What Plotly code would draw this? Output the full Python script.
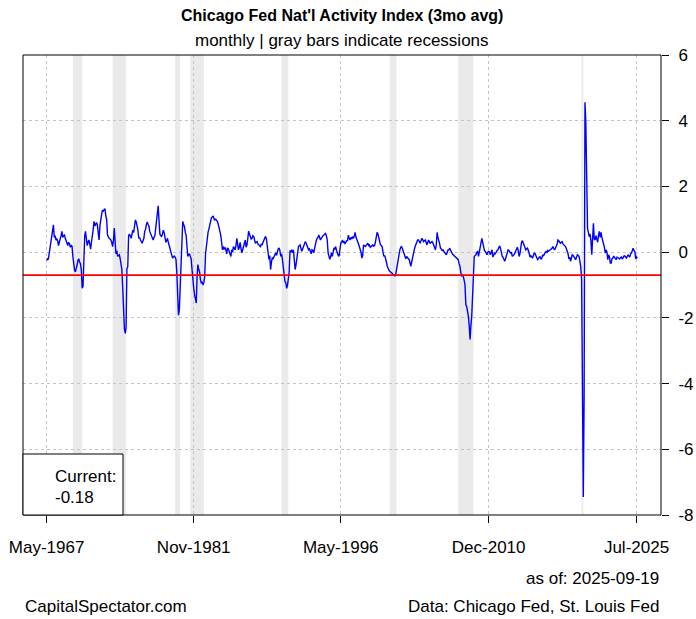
import pandas as pd
import plotly.graph_objects as go

# ---------------- data (CFNAI 3-month average, monthly from May-1967) ----------------
start_month = "1967-05-01"

cfnai_1960s = [
    -0.25, -0.2, -0.22, -0.05, 0.2, 0.35, 0.5, 0.6,                      # 1967 May-Dec
    0.83, 0.45, 0.5, 0.37, 0.4, 0.35, 0.2, 0.3, 0.37, 0.5, 0.63, 0.45,   # 1968
    0.5, 0.52, 0.42, 0.37, 0.28, 0.2, 0.3, 0.25, 0.15, 0.2, 0.18, -0.13, # 1969
]
cfnai_1970s = [
    -0.5, -0.55, -0.6, -0.53, -0.4, -0.25, -0.2, -0.3, -0.35, -0.53, -1.1, -1.05,
    0.07, 0.5, 0.63, 0.35, 0.2, 0.3, 0.37, 0.25, 0.09, 0.3, 0.45, 0.67,
    0.94, 0.8, 0.85, 0.9, 0.83, 0.65, 0.37, 0.8, 1.07, 1.15, 1.28, 1.25,
    1.3, 1.32, 1.1, 1.0, 0.52, 0.45, 0.42, 0.4, 0.37, 0.3, 0.17, 0.35,
    0.73, 0.3, -0.05, 0.05, -0.13, -0.1, -0.08, -0.2, -0.33, -0.53, -1.1, -1.8,
    -2.35, -2.47, -2.3, -0.5, -0.45, 0.5, 0.55, 0.5, 0.42, 0.55, 0.67, 0.6,
    0.85, 0.98, 0.92, 0.8, 0.67, 0.42, 0.45, 0.37, 0.3, 0.27, 0.35, 0.42,
    0.63, 0.7, 0.83, 0.92, 0.85, 0.8, 0.63, 0.55, 0.48, 0.42, 0.37, 0.45,
    0.5, 0.73, 0.9, 1.18, 1.41, 0.95, 0.55, 0.5, 0.48, 0.55, 0.67, 0.6,
    0.45, 0.3, 0.35, 0.42, 0.3, 0.2, 0.05, -0.05, -0.1, -0.18, -0.15, -0.12,
]
cfnai_1980s = [
    -0.15, -0.22, -0.6, -1.55, -1.92, -1.75, -0.94, -0.2, 0.48, 0.93, 0.85, 0.78,
    0.6, 0.52, 0.2, -0.13, -0.08, -0.05, -0.13, -0.2, -0.53, -0.93, -1.1, -1.3,
    -1.45, -1.55, -0.74, -0.38, -0.53, -0.6, -0.84, -0.95, -0.9, -1.0, -0.93, -0.74,
    -0.04, 0.2, 0.48, 0.6, 0.7, 0.85, 1.0, 1.05, 1.07, 1.1, 1.02, 0.98,
    1.0, 0.98, 0.94, 0.85, 0.75, 0.6, 0.52, 0.3, 0.07, 0.17, 0.1, 0.13,
    0.07, -0.05, 0.13, 0.1, 0.01, -0.08, -0.13, 0.07, 0.0, 0.17, 0.12, 0.07,
    0.2, 0.42, 0.25, 0.07, 0.15, 0.3, 0.1, -0.02, 0.08, 0.17, 0.25, 0.37,
    0.15, 0.22, 0.4, 0.64, 0.55, 0.48, 0.4, 0.42, 0.5, 0.48, 0.35, 0.27,
    0.3, 0.32, 0.25, 0.22, 0.2, 0.17, 0.25, 0.22, 0.3, 0.37, 0.42, 0.48,
    0.4, 0.2, 0.07, -0.22, -0.1, -0.53, -0.3, -0.18, -0.2, -0.13, -0.05, -0.02,
]
cfnai_1990s = [
    -0.1, 0.03, 0.1, 0.13, 0.05, -0.13, -0.05, -0.22, -0.5, -0.8, -0.9, -0.93,
    -1.1, -1.0, -0.7, -0.6, 0.05, 0.0, 0.07, -0.02, 0.07, -0.2, -0.53, -0.4,
    -0.18, 0.0, 0.17, 0.2, 0.22, 0.1, 0.03, 0.1, 0.17, 0.25, 0.32, 0.28,
    0.22, 0.15, 0.07, 0.1, 0.03, -0.05, 0.07, 0.05, -0.02, 0.15, 0.32, 0.35,
    0.42, 0.45, 0.52, 0.45, 0.37, 0.42, 0.48, 0.5, 0.52, 0.55, 0.57, 0.5,
    0.37, -0.02, -0.1, -0.22, -0.15, -0.02, -0.13, 0.0, 0.13, 0.1, 0.17, 0.05,
    -0.07, -0.1, -0.13, 0.1, 0.27, 0.3, 0.37, 0.3, 0.32, 0.25, 0.3, 0.35,
    0.35, 0.52, 0.42, 0.37, 0.45, 0.4, 0.47, 0.42, 0.5, 0.6, 0.45, 0.4,
    0.32, 0.25, 0.17, 0.1, 0.0, -0.18, -0.1, 0.22, 0.2, 0.17, 0.2, 0.25,
    0.27, 0.2, 0.22, 0.15, 0.17, 0.2, 0.22, 0.18, 0.2, 0.3, 0.42, 0.6,
]
cfnai_2000s = [
    0.55, 0.4, 0.3, 0.22, 0.2, 0.17, 0.0, -0.13, -0.1, -0.18, -0.3, -0.43,
    -0.53, -0.55, -0.58, -0.6, -0.63, -0.65, -0.7, -0.69, -0.72, -0.68, -0.53, -0.35,
    -0.13, -0.05, 0.07, 0.15, 0.17, 0.1, 0.02, -0.05, -0.18, -0.2, -0.13, -0.15,
    -0.2, -0.23, -0.35, -0.43, -0.3, -0.13, -0.05, 0.07, 0.17, 0.22, 0.32, 0.37,
    0.37, 0.3, 0.27, 0.35, 0.42, 0.38, 0.32, 0.35, 0.37, 0.3, 0.22, 0.3,
    0.37, 0.3, 0.27, 0.3, 0.32, 0.28, 0.22, 0.15, 0.07, 0.22, 0.6, 0.45,
    0.37, 0.25, 0.12, 0.1, 0.05, 0.07, 0.02, -0.03, -0.05, -0.08, 0.0, 0.07,
    0.07, 0.12, 0.05, 0.02, -0.05, -0.08, -0.1, -0.13, -0.15, -0.18, -0.2, -0.23,
    -0.35, -0.43, -0.6, -0.72, -0.7, -0.74, -0.85, -0.99, -1.6, -1.65, -1.8, -1.95,
    -2.25, -2.66, -2.25, -1.95, -1.35, -0.43, -0.13, -0.1, -0.08, 0.0, 0.02, -0.13,
]
cfnai_2010s = [
    0.0, 0.07, 0.27, 0.42, 0.3, 0.07, 0.05, 0.02, -0.05, -0.08, 0.0, 0.02,
    0.0, -0.08, 0.0, 0.07, -0.15, -0.1, -0.03, -0.05, 0.02, 0.05, 0.07, 0.15,
    0.19, 0.12, -0.08, -0.12, -0.15, -0.2, -0.28, -0.2, -0.13, -0.05, 0.07, 0.05,
    0.02, -0.03, 0.0, -0.13, -0.1, -0.08, -0.03, 0.02, 0.08, 0.15, 0.05, -0.13,
    -0.05, 0.22, 0.3, 0.35, 0.28, 0.22, 0.15, 0.07, 0.1, 0.12, 0.05, -0.03,
    -0.15, -0.11, -0.15, -0.18, -0.1, -0.03, -0.05, -0.11, -0.15, -0.23, -0.2, -0.15,
    -0.15, -0.21, -0.18, -0.08, -0.12, -0.03, 0.0, 0.02, -0.02, 0.05, 0.03, 0.05,
    0.07, 0.09, 0.12, 0.17, 0.1, 0.07, 0.12, 0.17, 0.25, 0.37, 0.35, 0.3,
    0.27, 0.3, 0.32, 0.25, 0.22, 0.2, 0.17, 0.1, 0.02, -0.05, -0.21, -0.15,
    -0.28, -0.2, -0.08, -0.1, -0.13, -0.18, -0.23, -0.15, -0.08, -0.1, -0.13, -0.28,
]
cfnai_2020s = [
    -0.45, -0.84, -4.47, -7.45, -4.42, 4.56, 3.96, 2.39, 0.72, 0.6, 0.47, 0.55,
    0.35, -0.08, 0.5, 0.88, 0.4, 0.37, 0.5, 0.4, 0.3, 0.52, 0.63, 0.45,
    0.6, 0.45, 0.37, 0.22, 0.15, -0.03, 0.07, 0.0, -0.23, -0.08, -0.15, -0.33,
    -0.33, -0.2, -0.18, -0.12, -0.15, -0.2, -0.23, -0.15, -0.18, -0.2, -0.21, -0.17,
    -0.15, -0.2, -0.18, -0.12, -0.11, -0.15, -0.18, -0.13, -0.08, -0.12, -0.15, -0.05,
    -0.03, 0.05, 0.12, 0.05, 0.02, -0.21, -0.15, -0.18,                  # 2025 Jan-Aug
]

recession_starts = ["1969-12-01", "1973-11-01", "1980-01-01", "1981-07-01",
                    "1990-07-01", "2001-03-01", "2007-12-01", "2020-02-01"]
recession_ends = ["1970-11-01", "1975-03-01", "1980-07-01", "1982-11-01",
                  "1991-03-01", "2001-11-01", "2009-06-01", "2020-04-01"]

tick_dates = ["1967-05-01", "1981-11-01", "1996-05-01", "2010-12-01", "2025-07-01"]
tick_labels = ["May-1967", "Nov-1981", "May-1996", "Dec-2010", "Jul-2025"]
y_ticks = [-8, -6, -4, -2, 0, 2, 4, 6]
threshold = -0.7
current_value = -0.18
as_of = "2025-09-19"

# ---------------- build ----------------
values = (cfnai_1960s + cfnai_1970s + cfnai_1980s + cfnai_1990s
          + cfnai_2000s + cfnai_2010s + cfnai_2020s)
dates = pd.date_range(start_month, periods=len(values), freq="MS")

t0, t1 = dates[0], dates[-1]
span = t1 - t0
xr = [(t0 - 0.04 * span).strftime("%Y-%m-%d %H:%M"), (t1 + 0.04 * span).strftime("%Y-%m-%d %H:%M")]

W, H = 696, 619
L, R, T, B = 23, 35, 55, 104
pw, ph = W - L - R, H - T - B


def px(xp):
    return (xp - L) / pw


def py(yp):
    return (H - B - yp) / ph


FONT = "Liberation Sans, Arial, sans-serif"

fig = go.Figure()
fig.add_trace(go.Scatter(x=dates, y=values, mode="lines",
                         line=dict(color="#0000FF", width=1.4), hoverinfo="skip",
                         showlegend=False))

shapes = []
for s, e in zip(recession_starts, recession_ends):
    shapes.append(dict(type="rect", xref="x", yref="paper", x0=s, x1=e, y0=0, y1=1,
                       fillcolor="#EAEAEA", line=dict(width=0), layer="below"))
shapes.append(dict(type="line", xref="paper", yref="y", x0=0, x1=1, y0=threshold, y1=threshold,
                   line=dict(color="#FF0000", width=1.6)))
# plot box
shapes.append(dict(type="rect", xref="paper", yref="paper", x0=0, x1=1, y0=0, y1=1,
                   line=dict(color="#000000", width=1), fillcolor="rgba(0,0,0,0)"))
# current value box
shapes.append(dict(type="rect", xref="paper", yref="paper", x0=0, x1=px(123), y0=0, y1=py(454),
                   line=dict(color="#000000", width=1), fillcolor="#FFFFFF", layer="above"))

annotations = [
    dict(text="<b>Chicago Fed Nat'l Activity Index (3mo avg)</b>", x=0.5, y=py(16),
         xanchor="center", yanchor="middle", font=dict(size=16)),
    dict(text="monthly | gray bars indicate recessions", x=0.5, y=py(41),
         xanchor="center", yanchor="middle", font=dict(size=17)),
    dict(text="Current:", x=px(53), y=py(476), xanchor="left", yanchor="middle", font=dict(size=17)),
    dict(text=f"{current_value:.2f}", x=px(53), y=py(497), xanchor="left", yanchor="middle",
         font=dict(size=17)),
    dict(text=f"as of: {as_of}", x=px(661), y=py(578), xanchor="right", yanchor="middle",
         font=dict(size=17)),
    dict(text="CapitalSpectator.com", x=px(23), y=py(606), xanchor="left", yanchor="middle",
         font=dict(size=17)),
    dict(text="Data: Chicago Fed, St. Louis Fed", x=px(661), y=py(606), xanchor="right",
         yanchor="middle", font=dict(size=17)),
]
for a in annotations:
    a.update(xref="paper", yref="paper", showarrow=False)
    a["font"].update(family=FONT, color="#000000")

fig.update_layout(
    width=W, height=H,
    margin=dict(l=L, r=R, t=T, b=B, pad=0, autoexpand=False),
    paper_bgcolor="#FFFFFF", plot_bgcolor="#FFFFFF",
    font=dict(family=FONT, size=17, color="#000000"),
    shapes=shapes, annotations=annotations, showlegend=False,
    xaxis=dict(type="date", range=xr, tickvals=tick_dates, ticktext=tick_labels,
               ticks="outside", ticklen=7, tickwidth=1, tickcolor="#000000",
               showgrid=True, gridcolor="#C4C4C4", griddash="dot", gridwidth=1,
               showline=False, zeroline=False, tickfont=dict(size=17), automargin=False,
               ticklabelstandoff=10),
    yaxis=dict(range=[-8, 6], side="right", tickvals=y_ticks,
               ticktext=[str(v) for v in y_ticks],
               ticks="outside", ticklen=7, tickwidth=1, tickcolor="#000000",
               showgrid=True, gridcolor="#C4C4C4", griddash="dot", gridwidth=1,
               showline=False, zeroline=False, tickfont=dict(size=17), automargin=False,
               ticklabelstandoff=6),
)

fig.write_html("out.html", config={"displayModeBar": False},
               post_script="document.body.style.margin='0';document.body.style.overflow='hidden';")
